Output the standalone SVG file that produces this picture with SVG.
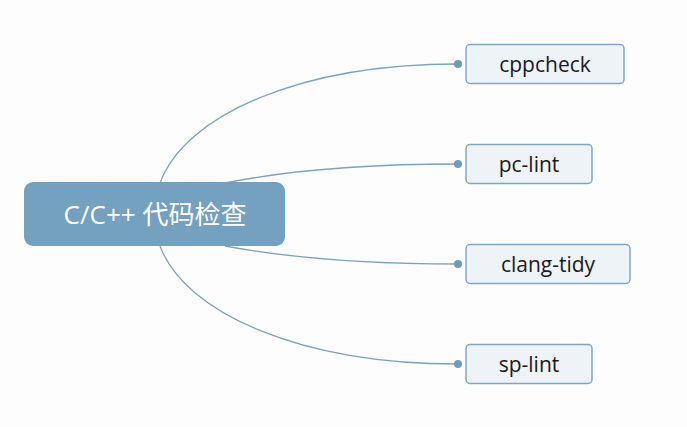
<svg xmlns="http://www.w3.org/2000/svg" width="687" height="427" viewBox="0 0 687 427">
<style>
.conn{fill:none;stroke:#7aa3bf;stroke-width:1.3}
.dot{fill:#6e9dbc}
.child rect{fill:#eef3f7;stroke:#7ea7c4;stroke-width:1.5}
.child text{font-family:"Open Sans","Noto Sans","Noto Sans CJK SC",sans-serif;font-size:21px;fill:#1a1a1a;text-anchor:middle}
.root rect{fill:#73a1bf}
.root text{font-family:"Open Sans","Noto Sans","Noto Sans CJK SC",sans-serif;font-size:26px;fill:#ffffff;text-anchor:middle}
</style>
<rect width="687" height="427" fill="#fdfdfd"/>
<g id="connectors">
<path class="conn" d="M160,183 C185,115 300,64 458,64"/>
<path class="conn" d="M225,183 C300,168 380,164 458,164"/>
<path class="conn" d="M225,246 C300,260 380,264 458,264"/>
<path class="conn" d="M160,246 C185,313 300,364 458,364"/>
<circle class="dot" cx="458" cy="64" r="4"/>
<circle class="dot" cx="458" cy="164" r="4"/>
<circle class="dot" cx="458" cy="264" r="4"/>
<circle class="dot" cx="458" cy="364" r="4"/>
</g>
<g id="root" class="root">
<rect x="24" y="182" width="261" height="64" rx="9"/>
<text x="155" y="224">C/C++ 代码检查</text>
</g>
<g id="n-cppcheck" class="child">
<rect x="466" y="44.5" width="158" height="39" rx="4"/>
<text x="545" y="72">cppcheck</text>
</g>
<g id="n-pclint" class="child">
<rect x="466" y="144.5" width="126" height="39" rx="4"/>
<text x="529" y="172">pc-lint</text>
</g>
<g id="n-clangtidy" class="child">
<rect x="466" y="244.5" width="164" height="39" rx="4"/>
<text x="548" y="272">clang-tidy</text>
</g>
<g id="n-splint" class="child">
<rect x="466" y="344.5" width="126" height="39" rx="4"/>
<text x="529" y="372">sp-lint</text>
</g>
</svg>
